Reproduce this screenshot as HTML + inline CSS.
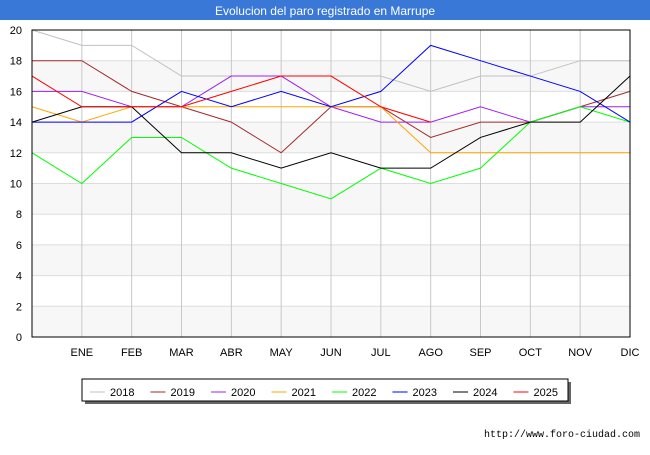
<!DOCTYPE html>
<html><head><meta charset="utf-8"><style>
body{margin:0;background:#fff;font-family:"Liberation Sans","DejaVu Sans",sans-serif}
#wrap{position:relative;width:650px;height:450px;background:#fff}
</style></head><body>
<div id="wrap">
<svg id="chart" width="650" height="450" xmlns="http://www.w3.org/2000/svg">
<rect x="0" y="0" width="650" height="20" fill="#3a78d8"/>
<text x="325" y="15" text-anchor="middle" font-size="12" fill="#fff">Evolucion del paro registrado en Marrupe</text>
<g id="grid"></g>
<g id="series"></g>
<g id="axes"></g>
<g id="legend"></g>
<text x="640" y="437" text-anchor="end" font-size="10" font-family="Liberation Mono, monospace" fill="#000">http://www.foro-ciudad.com</text>
</svg>
</div>
<script>
const months = ["","ENE","FEB","MAR","ABR","MAY","JUN","JUL","AGO","SEP","OCT","NOV","DIC"];
const yTicks = [0,2,4,6,8,10,12,14,16,18,20];
const years = ["2018","2019","2020","2021","2022","2023","2024","2025"];
const colors = ["#c0c0c0","#a52a2a","#a020f0","#ffa500","#00ff00","#0000ff","#000000","#ff0000"];
const s2018 = [20,19,19,17,17,17,17,17,16,17,17,18,18];
const s2019 = [18,18,16,15,14,12,15,15,13,14,14,15,16];
const s2020 = [16,16,15,15,17,17,15,14,14,15,14,15,15];
const s2021 = [15,14,15,15,15,15,15,15,12,12,12,12,12];
const s2022 = [12,10,13,13,11,10,9,11,10,11,14,15,14];
const s2023 = [14,14,14,16,15,16,15,16,19,18,17,16,14];
const s2024 = [14,15,15,12,12,11,12,11,11,13,14,14,17];
const s2025 = [17,15,15,15,16,17,17,15,14];
const seriesData = [s2018,s2019,s2020,s2021,s2022,s2023,s2024,s2025];

const NS="http://www.w3.org/2000/svg";
const X0=32,X1=630,Y0=337,Y1=30,YMAX=20;
const xs=i=>X0+(X1-X0)*i/(months.length-1);
const ys=v=>Y0-(Y0-Y1)*v/YMAX;
function mk(tag,attrs,parent){const e=document.createElementNS(NS,tag);for(const k in attrs)e.setAttribute(k,attrs[k]);parent.appendChild(e);return e;}
const grid=document.getElementById('grid'),ser=document.getElementById('series'),axes=document.getElementById('axes'),leg=document.getElementById('legend');
for(let i=0;i<yTicks.length-1;i++){
  if(i%2===0){const b=mk('rect',{x:X0,y:ys(yTicks[i+1]),width:X1-X0,height:ys(yTicks[i])-ys(yTicks[i+1]),fill:'#f7f7f7'},grid);
  
  }
}
yTicks.forEach(v=>{
  const l=mk('line',{x1:X0,x2:X1,y1:ys(v),y2:ys(v),stroke:'#dddddd','stroke-width':1},grid);
  
  
  const t=mk('text',{x:X0-10,y:ys(v)+4,'text-anchor':'end','font-size':11,fill:'#000'},axes);
  t.textContent=v;
  
  
});
months.forEach((m,i)=>{
  const l=mk('line',{x1:xs(i),x2:xs(i),y1:Y1,y2:Y0,stroke:'#c8c8c8','stroke-width':1},grid);
  
  
  const t=mk('text',{x:xs(i),y:356,'text-anchor':'middle','font-size':11,fill:'#000'},axes);
  t.textContent=m;
  
  
});
const frame=mk('rect',{x:X0,y:Y1,width:X1-X0,height:Y0-Y1,fill:'none',stroke:'#000','stroke-width':1},axes);


seriesData.forEach((d,k)=>{
  const p=mk('polyline',{points:d.map((v,i)=>xs(i)+','+ys(v)).join(' '),fill:'none',stroke:colors[k],'stroke-width':1},ser);
  
  
});
const sh=mk('rect',{x:85,y:382,width:486,height:22,fill:'#666'},leg);


const lb=mk('rect',{x:82,y:379,width:486,height:22,fill:'#fff',stroke:'#000','stroke-width':1},leg);


years.forEach((y,k)=>{
  const x=90+k*60.5;
  const l=mk('line',{x1:x,x2:x+15,y1:392,y2:392,stroke:colors[k],'stroke-width':1},leg);
  
  
  const t=mk('text',{x:x+20,y:396,'font-size':11,fill:'#000'},leg);
  t.textContent=y;
  
  
});
</script>
</body></html>
